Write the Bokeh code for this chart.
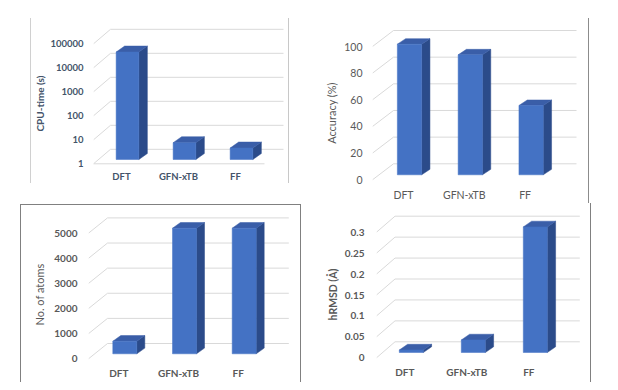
import math
from bokeh.plotting import figure
from bokeh.models import FixedTicker, Range1d, Spacer
from bokeh.layouts import row, column
from bokeh.embed import file_html
from bokeh.resources import INLINE

# ---------------- data ----------------
methods = ["DFT", "GFN-xTB", "FF"]
cpu_time = [30000, 5, 3]
accuracy = [98, 90, 52]
n_atoms = [500, 5000, 5000]
hrmsd = [0.006, 0.03, 0.3]

cpu_ticks = [1, 10, 100, 1000, 10000, 100000]
cpu_tick_labels = ["1", "10", "100", "1000", "10000", "100000"]
acc_ticks = [0, 20, 40, 60, 80, 100]
acc_tick_labels = ["0", "20", "40", "60", "80", "100"]
atom_ticks = [0, 1000, 2000, 3000, 4000, 5000]
atom_tick_labels = ["0", "1000", "2000", "3000", "4000", "5000"]
rmsd_ticks = [0, 0.05, 0.1, 0.15, 0.2, 0.25, 0.3]
rmsd_tick_labels = ["0", "0.05", "0.1", "0.15", "0.2", "0.25", "0.3"]

FONT = "Lato"
FRONT = "#4472C4"
SIDE = "#2B4B8A"
TOP = "#3A5EA8"
GRID = "#D9D9D9"


def panel(vals, ticks, tick_labels, ylabel, log, fig, frame, cat0, step,
          vlow, vhigh, wall, wall_right, bar, text_color, tick_bold, title_bold,
          tick_size, title_size, x_standoff, y_standoff, title_standoff,
          floor_right=None):
    fx0, fy0, fx1, fy1 = fig
    fl, ft, fr, fb = frame
    f = (lambda v: math.log10(v)) if log else (lambda v: v)
    finv = (lambda u: 10 ** u) if log else (lambda u: u)
    (v_lo, py_lo), (v_hi, py_hi) = vlow, vhigh
    ppu = (py_lo - py_hi) / (f(v_hi) - f(v_lo))

    def ysh(v, dpx):
        return finv(f(v) - dpx / ppu)

    def xpx(px):
        return (px - cat0) / step

    ys = finv(f(v_lo) - (fb - py_lo) / ppu)
    ye = finv(f(v_lo) + (py_lo - ft) / ppu)
    xs, xe = xpx(fl), xpx(fr)

    p = figure(width=fx1 - fx0, height=fy1 - fy0, output_backend="svg",
               toolbar_location=None, y_axis_type="log" if log else "linear",
               x_range=Range1d(xs, xe), y_range=Range1d(ys, ye),
               min_border_left=fl - fx0, min_border_right=fx1 - fr,
               min_border_top=ft - fy0, min_border_bottom=fy1 - fb)
    p.outline_line_color = None
    p.grid.visible = False
    p.background_fill_color = "white"
    p.border_fill_color = "white"

    # back wall gridlines and left-wall diagonals
    wdx, wdy = wall
    base = ticks[0]
    gy = [ysh(t, wdy) for t in ticks]
    p.segment(x0=[xs + wdx / step] * len(ticks), y0=gy,
              x1=[xpx(wall_right)] * len(ticks), y1=gy,
              line_color=GRID, line_width=1)
    p.segment(x0=[xs] * len(ticks), y0=ticks,
              x1=[xs + wdx / step] * len(ticks), y1=gy,
              line_color=GRID, line_width=1)
    if floor_right is not None:
        p.segment(x0=[xs], y0=[base], x1=[xpx(floor_right)], y1=[base],
                  line_color=GRID, line_width=1)

    # pseudo-3D bars
    bx, by, bw, bdx, bdy = bar
    L, R, B, T = [], [], [], []
    sx, sy, tx, ty = [], [], [], []
    for i, v in enumerate(vals):
        left = i + (bx - bw / 2) / step
        right = i + (bx + bw / 2) / step
        bot = ysh(base, by)
        top = ysh(v, by)
        L.append(left); R.append(right); B.append(bot); T.append(top)
        ddx = bdx / step
        sx.append([right, right + ddx, right + ddx, right])
        sy.append([bot, ysh(bot, bdy), ysh(top, bdy), top])
        tx.append([left, left + ddx, right + ddx, right])
        ty.append([top, ysh(top, bdy), ysh(top, bdy), top])
    p.patches(sx, sy, fill_color=SIDE, line_color=SIDE, line_width=0.5)
    p.patches(tx, ty, fill_color=TOP, line_color=TOP, line_width=0.5)
    p.quad(left=L, right=R, bottom=B, top=T, fill_color=FRONT,
           line_color=FRONT, line_width=0.5)

    # axes
    p.xaxis.ticker = FixedTicker(ticks=list(range(len(methods))))
    p.xaxis.major_label_overrides = {i: m for i, m in enumerate(methods)}
    p.yaxis.ticker = FixedTicker(ticks=ticks)
    p.yaxis.major_label_overrides = {t: s for t, s in zip(ticks, tick_labels)}
    for ax in (p.xaxis, p.yaxis):
        ax.axis_line_color = None
        ax.major_tick_line_color = None
        ax.minor_tick_line_color = None
        ax.major_tick_out = 0
        ax.major_tick_in = 0
        ax.minor_tick_out = 0
        ax.major_label_text_font = FONT
        ax.major_label_text_color = text_color
        ax.major_label_text_font_size = tick_size
        ax.major_label_text_font_style = "bold" if tick_bold else "normal"
    p.xaxis.major_label_standoff = x_standoff
    p.yaxis.major_label_standoff = y_standoff

    p.yaxis.axis_label = ylabel
    p.yaxis.axis_label_standoff = title_standoff
    p.yaxis.axis_label_text_font = FONT
    p.yaxis.axis_label_text_font_size = title_size
    p.yaxis.axis_label_text_color = text_color
    p.yaxis.axis_label_text_font_style = "bold" if title_bold else "normal"
    # wrap in a column so rows do not align the frames of sibling plots
    return column(Spacer(width=fx1 - fx0, height=0), p)


def vline(height, color, top=0):
    items = []
    if top:
        items.append(Spacer(width=1, height=top))
    items.append(Spacer(width=1, height=height, styles={"background-color": color}))
    return column(*items) if len(items) > 1 else items[0]


p1 = panel(cpu_time, cpu_ticks, cpu_tick_labels, "CPU-time (s)", True,
           fig=(31, 0, 288, 200), frame=(93, 24, 286, 182), cat0=121, step=57,
           vlow=(1, 163.3), vhigh=(100000, 43.3), wall=(17, -14.5),
           wall_right=283, bar=(6, -4.3, 22.7, 8.5, -6),
           text_color="#44546A", tick_bold=True, title_bold=True,
           tick_size="9.5px", title_size="10px", x_standoff=-12, y_standoff=10,
           title_standoff=1, floor_right=264)

p2 = panel(accuracy, acc_ticks, acc_tick_labels, "Accuracy (%)", False,
           fig=(289, 0, 588, 203), frame=(372, 26, 580, 199), cat0=403, step=60.8,
           vlow=(0, 179.3), vhigh=(100, 46), wall=(21, -16),
           wall_right=576, bar=(6, -5, 24.3, 8.3, -5.5),
           text_color="#595959", tick_bold=False, title_bold=False,
           tick_size="10.5px", title_size="11px", x_standoff=-11, y_standoff=10,
           title_standoff=3)

p3 = panel(n_atoms, atom_ticks, atom_tick_labels, "No. of atoms", False,
           fig=(21, 205, 300, 382), frame=(88, 214, 290, 374), cat0=118.3, step=59.7,
           vlow=(0, 358.3), vhigh=(5000, 232.7), wall=(19, -15.3),
           wall_right=288.3, bar=(6, -5, 24, 8, -5.7),
           text_color="#595959", tick_bold=True, title_bold=False,
           tick_size="10px", title_size="11px", x_standoff=-8, y_standoff=11,
           title_standoff=5)

p4 = panel(hrmsd, rmsd_ticks, rmsd_tick_labels, "hRMSD (Å)", False,
           fig=(301, 203, 590, 382), frame=(376, 213, 582, 375), cat0=404.3, step=62,
           vlow=(0, 357.3), vhigh=(0.3, 231.7), wall=(18.5, -16),
           wall_right=579.3, bar=(6.5, -5.3, 24, 8.3, -5.7),
           text_color="#595959", tick_bold=True, title_bold=True,
           tick_size="10px", title_size="10.5px", x_standoff=-10, y_standoff=12,
           title_standoff=3)

top_row = row(
    Spacer(width=30, height=1),
    vline(165, "#D0D0D0", top=18),
    p1,
    vline(165, "#C8C8C8", top=18),
    p2,
    vline(185, "#8C8C8C", top=18),
)
p3_col = column(Spacer(width=279, height=1),
                Spacer(width=279, height=1, styles={"background-color": "#808080"}),
                p3)
bottom_row = row(
    Spacer(width=20, height=1),
    vline(178, "#808080", top=1),
    p3_col,
    vline(178, "#808080", top=1),
    p4,
    vline(179, "#808080"),
)
layout = column(top_row, bottom_row)
open("out.html", "w").write(file_html(layout, INLINE))
